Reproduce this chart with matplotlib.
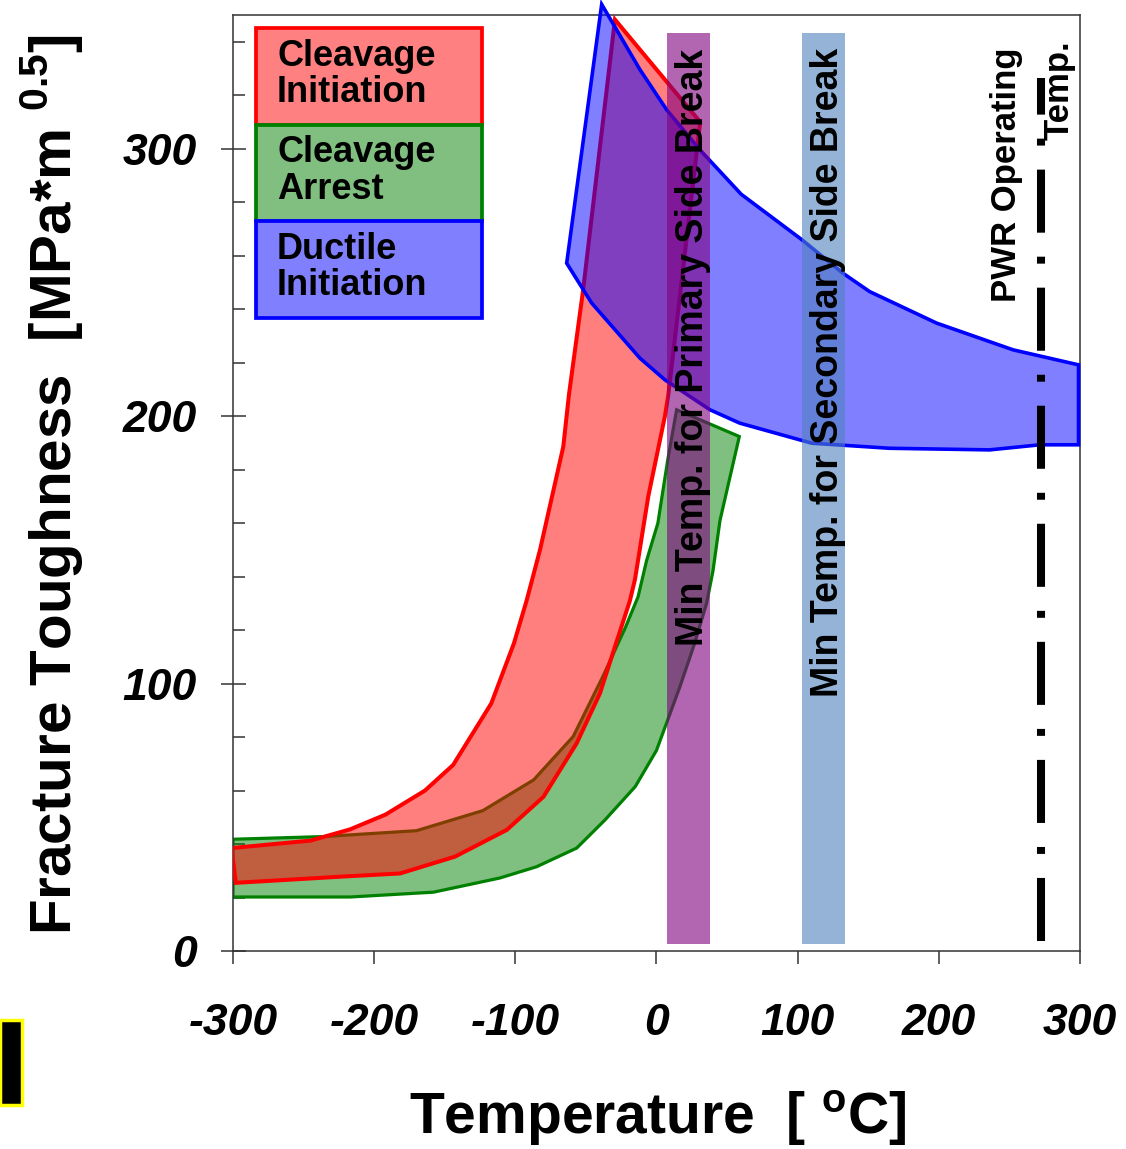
import matplotlib
matplotlib.use("Agg")
import matplotlib.pyplot as plt
import matplotlib.patches as patches
from matplotlib.ticker import MultipleLocator

plt.rcParams['font.family'] = ['Liberation Sans', 'DejaVu Sans']
plt.rcParams['mathtext.fontset'] = 'custom'
plt.rcParams['mathtext.rm'] = 'Liberation Sans:bold'
plt.rcParams['mathtext.bf'] = 'Liberation Sans:bold'
plt.rcParams['lines.scale_dashes'] = False
plt.rcParams['axes.unicode_minus'] = False

# band outlines (temperature in C, toughness in MPa*m^0.5)
arrest_t = [-300, -236, -170, -123, -87, -59, -38, -22, -13, -7, 1, 8, 14.3,
            58.7, 45, 40, 35.5, 27, 16.6, 7.2, 0, -15, -36.5, -56.5, -85, -111, -158, -217, -300]
arrest_k = [41.8, 42.8, 45, 52.5, 64, 80.2, 102.6, 121, 132.5, 146, 160, 183.7, 202.4,
            192.4, 161, 142, 130, 115, 98.8, 85.3, 75, 61.5, 49, 38.5, 31.5, 27.3, 22, 20.2, 20.2]

init_t = [-298, -224, -181.7, -142.7, -106, -80, -56.5, -40, -29.4, -18.8, -15.2, -5.8, 6, 8.4,
          31, -29.4, -52, -62, -66, -82.5, -92, -101, -117, -144, -164, -192, -217, -245, -301]
init_k = [25.5, 27.8, 29, 35.3, 45.3, 57.7, 77.7, 96.4, 113.8, 131, 139, 170, 200, 208,
          310, 348.3, 247, 208, 188.6, 150, 131, 115, 92.6, 69.6, 60, 51, 45.5, 41.3, 38.5]

ductile_t = [-38.8, -11.7, 7.2, 30.8, 60, 103, 132, 151, 198.5, 252.7, 299,
             299, 271.6, 236, 165, 110, 59, 37.9, 6, -11.7, -45.9, -63.6]
ductile_k = [354, 329.6, 314.6, 299.6, 283, 266, 253.5, 246.6, 234.8, 224.8, 219.2,
             189.3, 189.3, 187.4, 188, 189.9, 197.4, 202.4, 213.6, 221.7, 242.3, 257.2]

break_centers = [22.7, 118.3]
break_labels = ['Min Temp. for Primary Side Break', 'Min Temp. for Secondary Side Break']
break_label_y = [225.8, 216.4]
break_colors = ['#800080', '#4f81bd']
bar_bottom, bar_top = 2.6, 343.4

pwr_temp = 272.4
pwr_span = [3.7, 326.6]

legend_labels = ['Cleavage\nInitiation', 'Cleavage\nArrest', 'Ductile\nInitiation']
legend_faces = ['#ff8080', '#80bf80', '#8080ff']
legend_edges = ['#ff0000', '#008000', '#0000ff']

fig = plt.figure(figsize=(11.26, 11.49), dpi=100)
ax = fig.add_axes([0.2069, 0.1723, 0.7522, 0.8146])

ax.fill(arrest_t, arrest_k, facecolor=(0, 0.5, 0, 0.5), edgecolor='#008000', lw=2.3, zorder=2)
ax.fill(init_t, init_k, facecolor=(1, 0, 0, 0.5), edgecolor='#ff0000', lw=2.9, zorder=3)
ax.fill(ductile_t, ductile_k, facecolor=(0, 0, 1, 0.5), edgecolor='#0000ff', lw=2.6, zorder=4,
        clip_on=False)

ax.bar(break_centers, bar_top - bar_bottom, bottom=bar_bottom, width=30.5,
       color=break_colors, alpha=0.6, zorder=5)
for xc, lab, yc in zip(break_centers, break_labels, break_label_y):
    ax.text(xc + 3, yc, lab, rotation=90, ha='center', va='center',
            fontsize=27, fontweight='bold', zorder=7)

ax.plot([pwr_temp, pwr_temp], pwr_span, color='black', lw=5.8,
        dashes=(45.4, 17.3, 5.0, 17.3), solid_capstyle='butt', dash_capstyle='butt', zorder=6)
ax.text(248.3, 290.3, 'PWR Operating', rotation=90, ha='center', va='center',
        fontsize=25, fontweight='bold', zorder=7)
ax.text(285.5, 322, 'Temp.', rotation=90, ha='center', va='center',
        fontsize=25, fontweight='bold', zorder=7)

# legend boxes
box_edges = [0.986, 0.8825, 0.78, 0.676]
for i, lab in enumerate(legend_labels):
    top, bot = box_edges[i], box_edges[i + 1]
    ax.add_patch(patches.Rectangle((0.027, bot), 0.267, top - bot, transform=ax.transAxes,
                                   facecolor=legend_faces[i], edgecolor=legend_edges[i],
                                   lw=2.7, zorder=8))
    ax.text(0.052, (top + bot) / 2 + 0.002, lab, transform=ax.transAxes, ha='left', va='center',
            fontsize=26, fontweight='bold', linespacing=1.05, zorder=9)

ax.set_xlim(-300, 300)
ax.set_ylim(0, 350)
ax.xaxis.set_major_locator(MultipleLocator(100))
ax.yaxis.set_major_locator(MultipleLocator(100))
ax.yaxis.set_minor_locator(MultipleLocator(20))
ax.tick_params(axis='x', which='major', direction='out', length=9.4, width=1.1, pad=28,
               labelsize=32, color='#333333')
ax.tick_params(axis='y', which='major', direction='inout', length=18, width=1.1, pad=17,
               labelsize=32, color='#333333')
ax.tick_params(axis='y', which='minor', direction='in', length=8.6, width=1.1, color='#333333')
for lab in ax.get_xticklabels() + ax.get_yticklabels():
    lab.set_fontweight('bold')
    lab.set_fontstyle('italic')
for sp in ax.spines.values():
    sp.set_color('#333333')
    sp.set_linewidth(1.1)

fig.text(0.064, 0.578, r'Fracture Toughness  [MPa*m $^{\mathbf{0.5}}$]', rotation=90,
         rotation_mode='anchor', ha='center', va='baseline', fontsize=42, fontweight='bold')
fig.text(0.584, 0.0125, r'Temperature  [ $^{\mathbf{o}}$C]', ha='center', va='baseline',
         fontsize=41, fontweight='bold')

fig.patches.append(patches.Rectangle((0.0, 0.0383), 0.0195, 0.074, transform=fig.transFigure,
                                     facecolor='black', edgecolor='#ffff00', lw=2.5))

fig.savefig('out.png', dpi=100)
